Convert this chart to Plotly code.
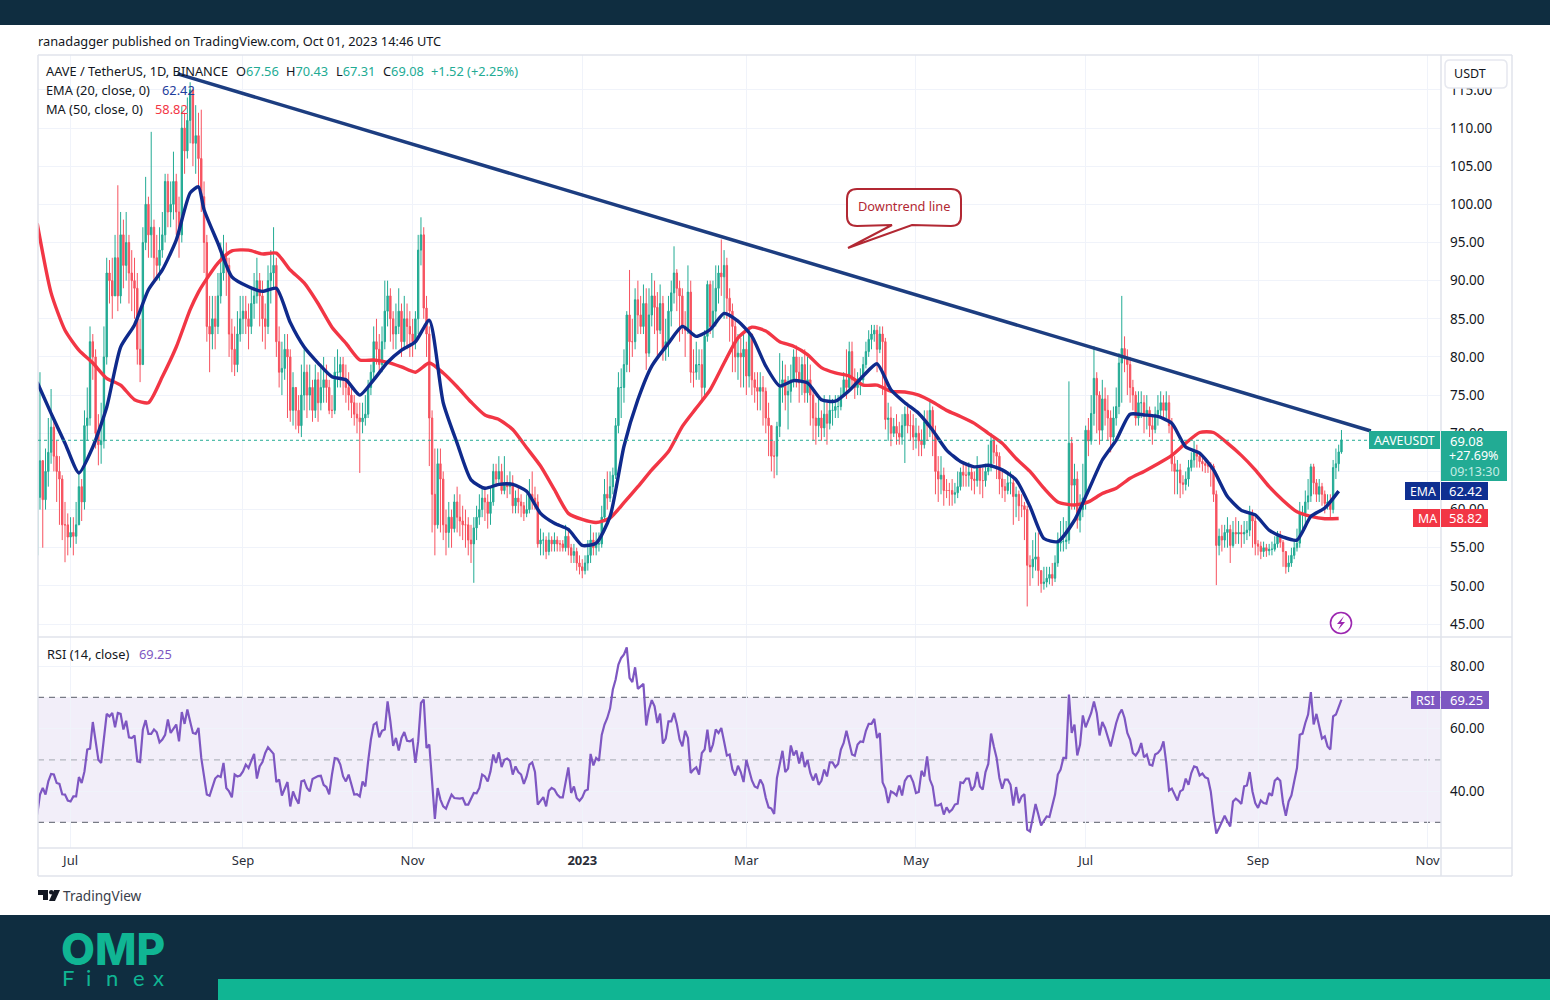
import pandas as pd
import plotly.graph_objects as go

FIRST_OPEN = 54
CLOSE = [
 61.6,66.4,61.3,65,67.5,70.8,67,65,64,58,58,56.4,
 57,56.5,58,63,61,71,72,82,80,70,68.5,69,80,91,90,88,93,88,96,92,95,91,90,89,81,79,95,100,96,97,93,
 92,94,96,103,99,100,103,99,96,110,107,111,115,108,109,106,101,95,84,83,85,84,88,91,93,92,83,81,79,83,85,
 86,85,84,87,88,90,88,85,84,90,91,92,82,78,78.5,81,80,73,76,73,71,75,78,75,76,73,77,74,76,77,
 76,73,73,78,78,79,77,76,75,74,72.5,72,71.5,72,72.5,76,78,82,81,79,82,86,88,85,83,84,86,82,85,84,83,
 82,85,94,96,86.4,83,72,62,58,66,64,58,57,59,57.5,61,59,58.5,58,58,56,55.5,57.6,59,60,61.5,61,59.5,61,65,
 64,65,62.5,63.5,63,63.5,60.5,61.5,61,60.5,59.5,60,62,61.5,61,55.5,56,56,54.5,56,55.5,56,55.5,55.5,55,56.5,55,54,54.5,53,52.5,
 52,53,54,56,55,55.5,55.5,59,62,61.5,63,64.5,71,76,76,79,85.5,82,82,87.5,85.5,84,87,80.5,85.5,88,86.5,83.5,87,81,82,
 86,88.4,91,89,88,84,83.5,88.5,78,78,79,79,76,82.7,89.5,84,86,89,91,90.5,92,87.7,86,84,80,80.5,80,81,
 77.5,83,77,76,75.5,76,75.5,72,71,67,67,70.9,76,77,75,75.5,77,80,78,76.6,79,75.3,77,75,72,71,72,70.7,72.5,71.3,73,
 73,73.5,73.5,75,77,76,80.7,77,76,77,77,79,80.7,82.3,83,83.5,81,83,82,71.8,72,70,70.9,70,69.5,71,72.5,71,71,69.5,
 70,69,68.5,71.5,71,73,70,65,64,64.5,62.5,62.5,62.5,62,62.2,63,64.9,64.5,64.5,64.9,64,63.8,65.5,63.8,63.8,65,65.5,69,67.5,67,64,
 63,62.5,63.5,63.5,61.7,62,60.5,60.5,60,52.7,52.5,53.5,53.8,52,50.3,50.5,51,51.5,51,53,55.6,55.8,55.8,56,68.7,63.2,64,58.6,60,61.5,
 70.4,69,72.6,77.2,75,70.4,74.5,73,72,69.5,72,73.5,79.2,81.1,80,79,76,75,72,74,74,72.5,73,71,70.5,72.5,73,74,73,74,71,
 66,65,65.2,63.5,63.3,64,65.5,66.5,67.5,67,66.3,66,65.8,65.7,65.7,62,55.3,56.5,56,57,57.4,55.3,57,56.8,57,56.8,57,57.3,59.5,58.5,55.5,
 55.2,54.5,55,54.6,54.8,54.8,55.5,56.5,55.7,54.5,52.5,53,54,55,55.6,59.5,59.5,61,61.8,65.6,63.5,62,63,62,60.8,61,60,65.5,66,67.56,
 69.08]
HIGH = [
 63,78,66.5,68,72,75.8,72,69,67,64.5,61,59.5,
 59,59,61,65,64,73,76,84,83,81,72.5,74,84,93,92.7,93,96,102.5,99,98,99,96,94,93,91,85,97,103.6,101,109.5,98,
 96,97,99,104,104,103,106.9,104,101,112.8,112,114,116,115,113,112,112.4,103,96,88,88,88,91,95,96,95,93,85,84,86,88,
 88,88,87,89,91,93,91,90,87,92,94,97,93,84,82,83,83,81,78,76,75,79,81,79,79,77,79,78,79,80,
 79,77,75,80,81,80,80,79,78,76,75,74,74,74,75,77,79,84,85,83,84,90,90,89,86,87,89,87,88,87,86,
 85,86,96,98.3,97,88,84,73,68,68,68,65,60,61,60,62,63,62,60.5,60,59,58,59,60.5,62,63,63,62,63,66,
 66,67,66,67,64.5,65,64.5,62.5,63,62,61,62,64,65,63,62,57.5,57,56.5,57,56.5,57,56.5,56,56,58,57.5,55.5,55.5,55,54,
 53.5,54,56,58,57,57,57,60.5,64,65,65,65.5,72,78,78.5,81,86,91.4,85,89,90,88,89.5,89,89,91,90,88.5,89.5,88,85,
 88,90,94.5,91.5,90,89,86,92,90,81,82,81,81,83.5,90,90,90,92,92,95.4,94,93,89,87,85,83,82.5,83,
 82,84,83,78,78,78,77.5,76,74,71,69,71.5,80.5,79.5,79,77.5,79,81,81.5,80,80,81,80,79,76,74,74.5,73,75,74,75,
 74.5,75,75,76,78,81,82,82,78.5,78,78.5,80,82,83.5,84.2,84.2,84.2,84,84,82.5,74,73.5,72,72.5,71.5,72.5,73.5,74,73,72.5,
 72,71,70.5,73,73,74.5,73.5,71,67,67,65.5,64,63.5,64,63.5,65,65.5,66,66,66.2,65.5,65,67,65.5,65.5,66,68.5,70,69.5,68.5,67.5,
 65,64,65,65,64.5,63,62.5,62,61,60.5,54,56,57,57,52,52.5,52.5,52.5,53,54,57,58.5,59,58.5,76.8,69.5,66,65,62,66,
 71,72,75,81.4,78,75.5,77,76,75,73,73.5,76,80.5,88,82.7,81,80,77,75.5,75.5,75.5,75,75,73.5,72.5,73.5,75,75.5,75,75.5,75,
 72,67,66.5,66,64.5,65,66.5,67.5,69,68.5,67.5,67,66.5,66.3,66.2,66,62.5,57.5,58,58,59,58,58.5,59,58.5,58,58.5,58.5,60.5,60,59,
 56,55.8,55.8,55.5,55.5,55.8,56.5,57.2,57.2,56,54.5,54,55,56,57.5,61,60.5,62.5,64,66,66,64,64,63.5,62.5,62,62,66.5,68,68.5,
 70.43]
LOW = [
 50.5,60,55,60,63,66,65,61,58,56,53.1,54,
 55,54,55.5,58,58.5,60,69,71,77,68,65.8,66,68,79,87,85,88,86,87,89,90,87,86,85,79,76.7,79,94,93,93,90,
 90,90,93,95,97,97,98,96,93,95,104,106,108,105,104,102,99,91,82,78,81,81,83,87,90,88,80,78,77.5,78,82,
 83,83,81,83,85,87,84,82,81,83,87,89,80,76,75,77,72,71.5,71,70.5,70,69.5,73,72,73,71.5,72,71.5,73,74,
 74,72.5,72,72.5,76,76,75,74,73,72,71,70,64.8,70,71,72,75,77,79,78,78,81,84,82,81,81,83,80,81,81,80,
 80,81,83,92,85,80,65.7,57,54,57.5,57,56,54,55,55,57,57,56.5,56,55,54,53,50.4,56,58,59,58.5,57.5,58,60.5,
 63,63.5,62,62,61.5,62,59.5,59.5,59.5,59,58.5,59,59.5,60,60,55,54,54,53.5,54,54.5,54.5,54.5,54.5,54.5,54.5,54,53,53,52,51.5,
 51,51.5,52,53,54,54,54.5,55,58.5,60,61,62,64,70,72,74,78,78,80,81,83,83,83,78.3,80,84,83,80,83,79.5,79.5,
 80,84,87,86,82,83,80,83,76.6,76,77,77,74,74.5,82,83,82.5,84,87,88,85,85,82,78,78,77,76,76,
 75,76,75,74,73,73,71,70,67,65,64.1,64.5,69.5,74,73,70.5,74,76,76,74,75,74,74,71,69,68.5,69.5,69,69.5,68.5,70.5,
 71,72,72,73,75,74.5,75.5,76,74.5,75,75,76.5,78.5,80,81,82,78,80.5,75,70.5,69,68.3,69.5,68.5,68.5,68.5,66.1,70,69,67.8,
 68,67,67,68,69,69.5,67,62,61,62,60.5,61.5,60.5,60.5,60.8,61.5,62.5,63,63,63,62.5,62,63,62,61.5,63,64.5,65,66,64,62,
 61.5,61,62,62,58,59,58.5,59,56,47.3,50,51,52,50,49.1,49.5,49.8,50.2,50,50.5,52.5,54.5,54.5,54.8,55.5,60,60,57.5,57,59,
 60,67,68.5,71,70,68.5,69,71,69,67.5,69,71,72.5,74,78,75,74,73,71,71,72,70,70.5,69.5,68.5,70,71,72,72,72,70,
 65,62,62,61.5,62,62.5,63,65,65.5,65.5,65.5,65,64.8,64.8,63,61,50.1,54,54.5,55,55,53,55,55.5,55.5,55,55.5,56,56.5,55,54,
 54,53.5,53.8,53.8,54,54,54.5,55,55,52.5,51.6,51.8,52.5,53.5,54.5,55,57,58,60,61,62,61,61,60.5,59.5,60,59,59.5,64,65,
 67.31]
EMA = [76.7,72.6,68.7,64.8,68.2,73.4,81.3,84.2,88.8,91.4,95.3,101.5,102.3,99.3,94.9,90.5,89.2,88.6,89,84.5,81.3,79.2,77.4,77,75,77,79.3,80.9,82,84.8,
 74,68.7,63.9,62.8,63.3,63.3,62.4,59.5,58.2,57.4,55.3,55.6,59.1,68.3,74.4,78.8,81.8,84,82.7,83.6,85.7,84.7,82.7,78.8,76.2,76.9,76.6,74.4,74.2,75.6,77.5,79.1,75.7,74,
 72.6,70.4,67.8,66.3,65.6,65.8,65.2,63.9,60.4,56.2,55.8,58.6,62.5,66.5,69.1,72.5,72.4,72.2,71.3,68.2,67.4,65.2,61.7,59.9,59.3,57.3,56.4,56,59.1,60.2,62.42]
MA = [97.5,88.4,83.5,80.9,79.2,77.2,76.3,74.4,74,77.4,81.3,86.2,88.5,89.7,92.3,93.9,94,93.5,93.6,91.4,89.7,87,83.9,81.8,79.6,79.6,79.3,78.7,78,79.2,
 77.9,76.1,74.1,72.4,71.8,70.5,68.1,65.7,62.6,59.5,58.7,58.3,58.9,60.9,63,65.2,67.6,70.9,73.3,75.7,79.2,82.5,83.9,83.4,82,81.4,80.3,78.6,77.9,77.5,76.3,76.3,75.5,75.4,
 75,74.1,73,72.2,71.3,70,68.7,66.7,65,62.8,61,60.6,61,62.1,62.8,64.1,65,66,67.1,68.7,70.1,70.1,68.7,67.1,65.2,63,61.2,59.7,59.1,58.8,58.82]
RSI = [
 32.5,38.9,41,38.9,43.1,45.5,45.3,42.6,42.3,39,38.9,37,36.7,38.3,38.3,44.5,42.6,46.3,53.3,53.6,62.1,55.9,50,49,58,64.7,63.9,65,60.4,65,64.7,59.7,62.5,57.2,57,57.8,49.5,49.3,59.7,62.7,58.3,58.3,59.7,58.8,55.6,56.5,58,62.9,58.6,60,61.3,55.9,65.3,61.5,66.1,62.3,58.6,58.3,60.2,50.6,44.7,38.9,38.5,41.5,44,44.9,44.5,49,41,39.9,38,45.3,44.7,45,46.3,48.5,47.4,49.7,51.9,44,47.9,49.3,52.2,54,53,51.9,42.9,43.7,38.6,40.8,42.9,35.1,39.9,37.6,36,43.1,43.4,41,39.9,43.9,44.4,44.8,44.9,42,41.3,39,45.3,50.6,50.4,48.5,44.7,43.1,45.3,42,38.9,39,38.3,43.1,41.5,49.5,56.5,61.3,61.9,57.2,59.3,59.7,68.7,62.3,54.5,57,53,57,58.9,56.1,55.9,56.5,49,55.9,68.2,69.3,53.8,54.9,43.1,31.1,41,37.3,35.1,34.4,36.7,38.9,37.8,37.6,37.6,37.8,35.7,35.7,37.8,39.4,39.3,41,45.3,44.7,43.1,46.3,51.7,49,52.4,47.7,50,50.4,49.7,45.3,47.9,46.1,45.3,42.3,44.7,48.5,
 49.2,46.1,35.7,37,38.1,35.1,40.1,41,40.5,38.9,38,38,43.1,47.6,39.4,41.5,37.8,36.9,38,40.1,40.5,51.9,48.2,50.6,49.7,58,61.3,63.4,66.4,72.5,75.7,80.5,82.6,83.7,86,76.2,74.9,79.6,72.7,73.5,74.3,61,66.1,69.1,67.1,61.8,64.8,55.2,56.8,62.3,62.3,65,61.5,56.5,54.3,59.3,57,45.8,46.9,47.6,45.3,52.2,53.3,59.7,52.5,54.9,59.7,58.6,60.2,55.9,51.4,51.7,46.9,45,48.1,46.1,42.9,50,46.3,43.4,41.5,41,43.7,42,37.8,34.8,34.4,32.7,44.2,48.5,52.9,46.1,47.2,54.6,51.4,53,48.8,52.5,47.7,50,45.8,43.4,45.6,42,43.3,46.9,44.7,49.2,49.2,47.7,48.7,53.3,55.4,59.3,54.9,51.7,51.3,54.9,55.9,55.7,59.3,61.5,61.5,63.1,57,58.6,42.8,40.8,36.2,39.9,39.4,38.6,41.8,38.6,43.3,44.7,44.9,42.9,39.4,39.7,46.5,44.7,51.1,43.7,41.5,35.4,35.4,35.9,32.5,34.8,33.3,34.1,35.7,36,42.8,42.6,44,44,40.2,41.5,46.1,41.5,40.5,46.1,48.7,58.4,54.3,50.6,44.2,40.8,43.7,43.7,42,35.4,41.3,36.2,
 38.3,39,27.7,27.1,31.4,35.9,32.5,29,30.5,31.9,31.7,35.7,38.9,45.3,46.9,50.6,50.6,70.9,58.6,61.3,51.4,54.9,64.2,60.4,62.9,65,68.7,65,57.8,62.1,60.2,57.5,54.3,58,61.8,64.5,66.1,63.4,58.6,56.5,52.2,51.4,52.7,55.4,50.8,51.7,48.5,48.2,51.7,52.2,53.3,55.9,49,40.2,40.8,38.9,37,39.9,40.5,44,42,45.8,47.9,47.6,45,45.6,44.4,44,39.9,32.5,26.4,28.2,30.3,32.1,30.3,28.7,36.7,37.6,36.9,35.9,41.5,41.8,46.1,39.9,36.2,34.6,37,36.2,36,39.4,38.5,43.3,44.2,43.3,36.2,32.1,36.7,38.6,43.1,47.4,58,58.4,61.8,64.5,71.7,61.3,64.7,60.7,56.8,57.5,54.3,53.3,63.9,64.5,67.1,69.25]

PRICE_TICKS = [45,50,55,60,65,70,75,80,85,90,95,100,105,110,115]
RSI_TICKS = [40,60,80]
MONTH_TICKS = ["2022-07-01","2022-09-01","2022-11-01","2023-01-01","2023-03-01","2023-05-01","2023-07-01","2023-09-01","2023-11-01"]
MONTH_LABELS = ["Jul","Sep","Nov","<b>2023</b>","Mar","May","Jul","Sep","Nov"]
TREND_DATES = ["2022-08-08 12:00","2023-10-11 14:00"]
TREND_VALUES = [117.1,70.3]
LAST_CLOSE = 69.08

n = len(CLOSE)
dates = pd.date_range("2023-10-01", periods=n, freq="-1D")[::-1]
dates = pd.date_range(dates[0], periods=n, freq="D")
OPEN = [FIRST_OPEN] + CLOSE[:-1]
high = [max(h, o, c) for h, o, c in zip(HIGH, OPEN, CLOSE)]
low = [min(l, o, c) for l, o, c in zip(LOW, OPEN, CLOSE)]

base = pd.Timestamp("2022-06-19")
curve_days = [round(k*5.034) for k in range(94)]
curve_days.insert(12, 58)
curve_dates = [base + pd.Timedelta(days=d) for d in curve_days]
ema_len = min(len(EMA), len(curve_dates))
ma_len = min(len(MA), len(curve_dates))

UP, DOWN = "#22ab94", "#f7525f"
TXT = "#131722"
FONT = "Noto Sans"
W, H = 1550, 1000
def X(x): return x/W
def Y(y): return 1-y/H

fig = go.Figure()
fig.add_trace(go.Candlestick(x=dates, open=OPEN, high=high, low=low, close=CLOSE, xaxis="x", yaxis="y",
    increasing=dict(line=dict(color=UP, width=1), fillcolor=UP),
    decreasing=dict(line=dict(color=DOWN, width=1), fillcolor=DOWN),
    whiskerwidth=0, showlegend=False, hoverinfo="skip"))
fig.add_trace(go.Scatter(x=curve_dates[:ma_len], y=MA[:ma_len], mode="lines", xaxis="x", yaxis="y",
    line=dict(color="#f23645", width=3.4, shape="spline", smoothing=0.6), showlegend=False, hoverinfo="skip"))
fig.add_trace(go.Scatter(x=curve_dates[:ema_len], y=EMA[:ema_len], mode="lines", xaxis="x", yaxis="y",
    line=dict(color="#0f2a8c", width=3.4, shape="spline", smoothing=0.6), showlegend=False, hoverinfo="skip"))
fig.add_trace(go.Scatter(x=pd.to_datetime(TREND_DATES), y=TREND_VALUES, mode="lines", xaxis="x", yaxis="y",
    line=dict(color="#1c3d80", width=3.5), showlegend=False, hoverinfo="skip", cliponaxis=False))
fig.add_trace(go.Scatter(x=dates[-len(RSI):], y=RSI, mode="lines", xaxis="x2", yaxis="y2",
    line=dict(color="#7e57c2", width=2.2), showlegend=False, hoverinfo="skip"))

xr = ["2022-06-19 07:00","2023-11-05 19:00"]
grid = "#f0f3fa"
common = dict(range=xr, type="date", showgrid=True, gridcolor=grid, gridwidth=1, zeroline=False,
              showline=False, ticks="", tickvals=MONTH_TICKS, ticktext=MONTH_LABELS)
fig.update_layout(
    width=W, height=H, margin=dict(l=0,r=0,t=0,b=0), paper_bgcolor="white", plot_bgcolor="white",
    font=dict(family=FONT, size=13, color=TXT), showlegend=False, hovermode=False,
    xaxis=dict(domain=[X(38),X(1441)], anchor="y", showticklabels=False, rangeslider=dict(visible=False), **common),
    xaxis2=dict(domain=[X(38),X(1441)], anchor="y2", matches="x", showticklabels=True,
                tickfont=dict(size=13, color="#2a2e39"), ticklabelstandoff=3, **common),
    yaxis=dict(domain=[Y(637),Y(55)], anchor="x", side="right", range=[43.3,119.57], tickvals=PRICE_TICKS,
               tickformat=".2f", showgrid=True, gridcolor=grid, zeroline=False, showline=False, ticks="",
               tickfont=dict(size=13.5, color=TXT), ticklabelstandoff=8),
    yaxis2=dict(domain=[Y(848),Y(637)], anchor="x2", side="right", range=[21.8,89.3], tickvals=RSI_TICKS,
                tickformat=".2f", showgrid=True, gridcolor=grid, zeroline=False, showline=False, ticks="",
                tickfont=dict(size=13.5, color=TXT), ticklabelstandoff=8),
)

shapes = []
def rect(x0,y0,x1,y1,fill,line=None,layer="above"):
    shapes.append(dict(type="rect",xref="paper",yref="paper",x0=X(x0),x1=X(x1),y0=Y(y0),y1=Y(y1),
        fillcolor=fill,line=dict(color=line or fill,width=1 if line else 0),layer=layer))
def hline(x0,y0,x1,y1,color="#e0e3eb",width=1.5,layer="above"):
    shapes.append(dict(type="line",xref="paper",yref="paper",x0=X(x0),x1=X(x1),y0=Y(y0),y1=Y(y1),
        line=dict(color=color,width=width),layer=layer))
def path(points_cmd,fill=None,line=None,width=1.5):
    shapes.append(dict(type="path",xref="paper",yref="paper",path=points_cmd,
        fillcolor=fill or "rgba(0,0,0,0)",line=dict(color=line or "rgba(0,0,0,0)",width=width),layer="above"))
def P(x,y): return f"{X(x):.5f},{Y(y):.5f}"

rect(0,0,1550,25,"#0f2d40")
rect(0,915,1550,1000,"#0f2d40")
rect(218,979,1550,1000,"#10b593")
hline(38,55,1512,55); hline(38,637,1512,637); hline(38,848,1512,848); hline(38,876,1512,876)
hline(38,55,38,876); hline(1441,55,1441,876); hline(1512,55,1512,876)
shapes.append(dict(type="rect",xref="paper",yref="y2",x0=X(38),x1=X(1441),y0=30,y1=70,
    fillcolor="rgba(126,87,194,0.1)",line=dict(width=0),layer="below"))
for lvl,col in ((70,"#787b86"),(50,"#b2b5be"),(30,"#787b86")):
    shapes.append(dict(type="line",xref="paper",yref="y2",x0=X(38),x1=X(1441),y0=lvl,y1=lvl,
        line=dict(color=col,width=1.2,dash="6px,5px"),layer="below"))
shapes.append(dict(type="line",xref="paper",yref="y",x0=X(38),x1=X(1441),y0=LAST_CLOSE,y1=LAST_CLOSE,
    line=dict(color=UP,width=1,dash="dot"),layer="above"))
rect(1369,431,1440,449,UP); rect(1441,431,1507,481,UP)
rect(1405,482,1440,500,"#0f2f91"); rect(1441,482,1488,500,"#0f2f91")
rect(1413,509,1440,527,"#f23645"); rect(1441,509,1488,527,"#f23645")
rect(1411,691,1440,709,"#7e57c2"); rect(1441,691,1489,709,"#7e57c2")
path(f"M{P(1450,60)} L{P(1502,60)} Q{P(1507,60)} {P(1507,65)} L{P(1507,83)} Q{P(1507,88)} {P(1502,88)} L{P(1450,88)} Q{P(1445,88)} {P(1445,83)} L{P(1445,65)} Q{P(1445,60)} {P(1450,60)} Z",
     fill="white", line="#e6e8ef", width=1.5)
path(f"M{P(857,189)} L{P(951,189)} Q{P(961,189)} {P(961,199)} L{P(961,216)} Q{P(961,226)} {P(951,226)} L{P(912,225)} L{P(848,248)} L{P(892,225)} L{P(857,226)} Q{P(847,226)} {P(847,216)} L{P(847,199)} Q{P(847,189)} {P(857,189)} Z",
     fill="white", line="#b22833", width=2)
shapes.append(dict(type="circle",xref="paper",yref="paper",x0=X(1330.5),x1=X(1351.5),y0=Y(612.5),y1=Y(633.5),
    fillcolor="white",line=dict(color="#9c27b0",width=1.6),layer="above"))
path(f"M{P(1344,616)} L{P(1337,624)} L{P(1341,624)} L{P(1338,630)} L{P(1345,622)} L{P(1341,622)} Z",fill="#9c27b0")
path(f"M{P(38,890)} L{P(48,890)} L{P(48,900)} L{P(43,900)} L{P(43,895)} L{P(38,895)} Z",fill="#131722")
path(f"M{P(54,890)} L{P(60,890)} L{P(55,901)} L{P(49,901)} Z",fill="#131722")
shapes.append(dict(type="circle",xref="paper",yref="paper",x0=X(49),x1=X(53.5),y0=Y(890),y1=Y(894.5),
    fillcolor="#131722",line=dict(width=0),layer="above"))
fig.update_layout(shapes=shapes)

def note(x,y,text,size=12.5,color=TXT,anchor="left",family=FONT,weight=None):
    f = dict(size=size,color=color,family=family)
    if weight: f["weight"] = weight
    fig.add_annotation(xref="paper",yref="paper",x=X(x),y=Y(y),text=text,showarrow=False,xanchor=anchor,yanchor="middle",
        font=f,borderpad=0,borderwidth=0)
def sp(t,c): return f'<span style="color:{c}">{t}</span>'

LS = 12.8
note(38,41,"ranadagger published on TradingView.com, Oct 01, 2023 14:46 UTC",LS)
note(46,71,"AAVE / TetherUS, 1D, BINANCE",LS)
note(236,71,"O"+sp("67.56",UP),LS); note(286,71,"H"+sp("70.43",UP),LS)
note(336,71,"L"+sp("67.31",UP),LS); note(383,71,"C"+sp("69.08",UP),LS)
note(431,71,sp("+1.52 (+2.25%)",UP),LS)
note(46,90,"EMA (20, close, 0)",LS); note(162,90,"62.42",LS,"#1f3d9c")
note(46,109,"MA (50, close, 0)",LS); note(155,109,"58.82",LS,"#f23645")
note(47,654,"RSI (14, close)",LS); note(139,654,"69.25",LS,"#7e57c2")
note(1404.5,440.5,"AAVEUSDT",12.3,"white","center")
note(1466,440.5,"69.08",13,"white","center")
note(1474,456,"+27.69%",12.5,"white","center")
note(1475,471.5,"09:13:30",12.5,"#c4ebe4","center")
note(1422.5,491,"EMA",12.3,"white","center"); note(1465,491,"62.42",13,"white","center")
note(1427,518,"MA",12.3,"white","center"); note(1465,518,"58.82",13,"white","center")
note(1425.5,700,"RSI",12.3,"white","center"); note(1466,700,"69.25",13,"white","center")
note(1470,74,"USDT",12.5,TXT,"center")
note(904,206,"Downtrend line",12.8,"#b22833","center")
note(63,895.5,"TradingView",13.6,"#3a3e4a")
note(113,949,"OMP",44,"#10b593","center","Inter",800)
for ch,cx in zip("Finex",(68,88,112,139,158)):
    note(cx,977,ch,22,"#10b593","center","Lato")

fig.write_html("out.html", config=dict(displayModeBar=False), post_script="document.body.style.margin='0';")
